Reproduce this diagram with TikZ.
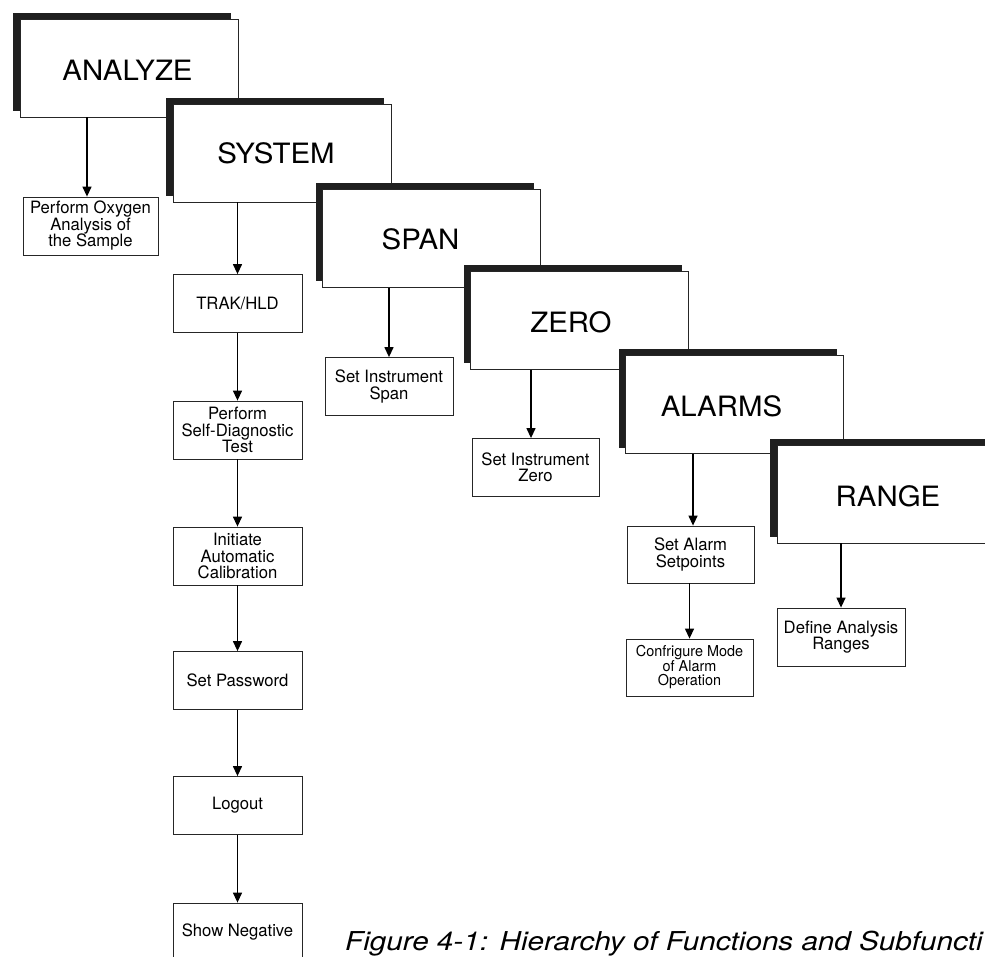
\documentclass[tikz,border=0pt]{standalone}
\usepackage{fontspec}
\setmainfont{TeX Gyre Heros}
\newfontfamily\bigf[FakeStretch=1.05]{TeX Gyre Heros}
\newfontfamily\smallf[FakeStretch=0.98]{TeX Gyre Heros}
\newfontfamily\tinyf[FakeStretch=0.96]{TeX Gyre Heros}
\newfontfamily\capf[FakeStretch=1.14]{TeX Gyre Heros Italic}
\usetikzlibrary{arrows.meta,shadows}
\tikzset{
  bigbox/.style={draw=black!85, line width=0.8pt, fill=white,
    minimum width=218pt, minimum height=98pt, inner sep=0pt,
    drop shadow={shadow xshift=-7pt, shadow yshift=6pt, fill=black!88, opacity=1}},
  bigtext/.style={inner sep=0pt, font=\bigf\fontsize{28}{30}\selectfont},
  subbox/.style={draw=black!85, line width=0.8pt, fill=white,
    minimum width=129pt, minimum height=58pt, inner sep=0pt, align=center,
    font=\smallf\fontsize{17}{16.5}\selectfont},
  arr/.style={line width=1.3pt, -{Triangle[length=10pt,width=9pt]}},
}
\begin{document}
\begin{tikzpicture}[x=1pt,y=-1pt]
\fill[white] (0,0) rectangle (985,957);
\useasboundingbox (0,0) rectangle (985,957);
\clip (0,0) rectangle (985,957);

% main function boxes
\node[bigbox] (analyze) at (129,68) {};
\node[bigtext] (analyzeT) at (127.5,70.5) {ANALYZE};
\node[bigbox] (system) at (282,153) {};
\node[bigtext] (systemT) at (276,153.5) {SYSTEM};
\node[bigbox] (span) at (431.5,238.5) {};
\node[bigtext] (spanT) at (420.5,239.5) {SPAN};
\node[bigbox] (zero) at (579.5,320.5) {};
\node[bigtext] (zeroT) at (571,322) {ZERO};
\node[bigbox] (alarms) at (734.5,404.5) {};
\node[bigtext] (alarmsT) at (721.5,406) {ALARMS};
\node[bigbox] (range) at (886,494) {};
\node[bigtext] (rangeT) at (888,496) {RANGE};

% subfunction boxes
\node[subbox, minimum width=135pt] (oxy) at (90.5,226) {Perform Oxygen\\Analysis of\\the Sample};
\node[subbox] (trak) at (237.5,303.5) {TRAK/HLD};
\node[subbox] (diag) at (237.5,430) {Perform\\Self-Diagnostic\\Test};
\node[subbox] (init) at (237.5,556) {Initiate\\Automatic\\Calibration};
\node[subbox] (pwd) at (237.5,680.5) {Set Password};
\node[subbox] (logout) at (237.5,805.5) {Logout};
\node[subbox] (showneg) at (237.5,932) {Show Negative};
\node[subbox, minimum width=128pt] (spans) at (389,386.5) {Set Instrument\\Span};
\node[subbox, minimum width=127pt] (zeros) at (535.5,467.5) {Set Instrument\\Zero};
\node[subbox, minimum width=127pt, minimum height=57pt] (alarmsub) at (690.5,554.5) {Set Alarm\\Setpoints};
\node[subbox, minimum width=127pt, minimum height=57pt,
      font=\tinyf\fontsize{15}{14.5}\selectfont] (conf) at (689.5,667.5) {Confrigure Mode\\of Alarm\\Operation};
\node[subbox, minimum width=128pt] (define) at (841,637) {Define Analysis\\Ranges};

% caption
\node[anchor=base west, inner sep=0pt, font=\capf\fontsize{26}{28}\selectfont] (caption)
  at (345,950) {Figure 4-1:\hspace{0.45em}Hierarchy of Functions and Subfuncti};

% connectors
\coordinate (oxyin) at ([xshift=-3.5pt]oxy.north);
\coordinate (zerosin) at ([xshift=-4.5pt]zeros.north);
\coordinate (alarmin) at ([xshift=2.5pt]alarmsub.north);
\draw[arr] (analyze.south -| oxyin) -- (oxyin);
\draw[arr] (system.south -| trak.north) -- (trak.north);
\draw[arr] (trak.south) -- (diag.north);
\draw[arr] (diag.south) -- (init.north);
\draw[arr] (init.south) -- (pwd.north);
\draw[arr] (pwd.south) -- (logout.north);
\draw[arr] (logout.south) -- (showneg.north);
\draw[arr] (span.south -| spans.north) -- (spans.north);
\draw[arr] (zero.south -| zerosin) -- (zerosin);
\draw[arr] (alarms.south -| alarmin) -- (alarmin);
\draw[arr] (alarmsub.south -| conf.north) -- (conf.north);
\draw[arr] (range.south -| define.north) -- (define.north);
\end{tikzpicture}
\end{document}
